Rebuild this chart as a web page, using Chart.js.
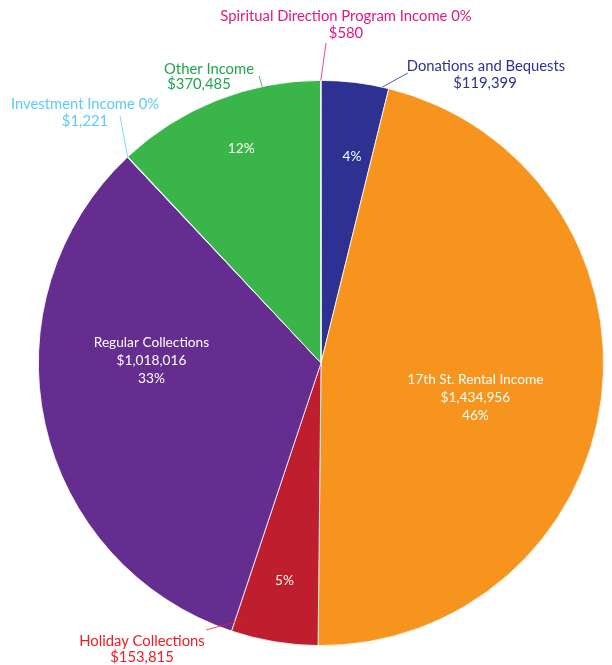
<!DOCTYPE html>
<html>
<head>
<meta charset="utf-8">
<script src="https://cdn.jsdelivr.net/npm/chart.js@4"></script>
<style>
  html, body { margin: 0; padding: 0; background: #ffffff; }
  #wrap { position: relative; width: 612px; height: 665px; }
</style>
</head>
<body>
<div id="wrap"><canvas id="c" width="612" height="665"></canvas></div>
<script>
// ---- data ----
const categories = [
  "Donations and Bequests",
  "17th St. Rental Income",
  "Holiday Collections",
  "Regular Collections",
  "Investment Income",
  "Other Income",
  "Spiritual Direction Program Income"
];
const values = [119399, 1434956, 153815, 1018016, 1221, 370485, 580];
const sliceColors = ["#2e3192", "#f7941d", "#be1e2d", "#662d91", "#6dcff6", "#39b54a", "#ec008c"];
const textColors  = ["#2e3192", "#ffffff", "#ed1c24", "#ffffff", "#5ccbf5", "#1ea64b", "#e5177f"];

const FONT = "Lato, 'Open Sans', sans-serif";
const total = values.reduce((a, b) => a + b, 0);
const pct = v => Math.round(v / total * 100) + "%";
const money = v => "$" + v.toLocaleString("en-US");

// label layout (style/positioning only)
// inside labels: angle (deg clockwise from top; null = slice middle) and radius fraction
const insideLabels = {
  0: { angle: 8.5, r: 0.74, lines: i => [pct(values[i])] },
  1: { angle: 102.7, r: 0.56, lines: i => [categories[i], money(values[i]), pct(values[i])] },
  2: { angle: null, r: 0.78, lines: i => [pct(values[i])] },
  3: { angle: 270.7, r: 0.60, lines: i => [categories[i], money(values[i]), pct(values[i])] },
  5: { angle: 339.6, r: 0.81, lines: i => [pct(values[i])] }
};
// outside labels: text anchor, leader start, leader end angle on rim
const outsideLabels = {
  0: { tx: [486, 485], ty: [66, 83], text: i => [categories[i], money(values[i])], from: [408, 73], angle: 12.5, rr: 1.0 },
  2: { tx: [142, 142], ty: [641, 657], text: i => [categories[i], money(values[i])], from: [206, 630], angle: 197, rr: 0.95 },
  4: { tx: [85, 85], ty: [104, 121], text: i => [categories[i] + " " + pct(values[i]), money(values[i])], from: [120, 116], angle: null, rr: 1.0 },
  5: { tx: [209, 199], ty: [69, 84], text: i => [categories[i], money(values[i])], from: [259, 76], angle: 348, rr: 1.0 },
  6: { tx: [346, 346], ty: [16, 33], text: i => [categories[i] + " " + pct(values[i]), money(values[i])], from: [326, 43], angle: null, rr: 1.0 }
};

function rimPoint(el, angleDeg, frac) {
  const p = el.getProps(["x", "y", "startAngle", "endAngle", "outerRadius"], true);
  let a;
  if (angleDeg === null) a = (p.startAngle + p.endAngle) / 2;
  else a = angleDeg * Math.PI / 180 - Math.PI / 2;
  return [p.x + Math.cos(a) * p.outerRadius * frac, p.y + Math.sin(a) * p.outerRadius * frac];
}

const labelPlugin = {
  id: "pieLabels",
  afterDatasetsDraw(chart) {
    const ctx = chart.ctx;
    const meta = chart.getDatasetMeta(0);
    ctx.save();
    ctx.textAlign = "center";
    ctx.textBaseline = "middle";
    // inside
    ctx.font = "13.7px " + FONT;
    Object.keys(insideLabels).forEach(k => {
      const i = +k, cfg = insideLabels[k];
      const [x, y] = rimPoint(meta.data[i], cfg.angle, cfg.r);
      const lines = cfg.lines(i);
      ctx.fillStyle = "#ffffff";
      const lh = 18;
      lines.forEach((t, j) => ctx.fillText(t, x, y + (j - (lines.length - 1) / 2) * lh));
    });
    // outside
    ctx.font = "14.8px " + FONT;
    Object.keys(outsideLabels).forEach(k => {
      const i = +k, cfg = outsideLabels[k];
      const col = textColors[i];
      const [ex, ey] = rimPoint(meta.data[i], cfg.angle, cfg.rr);
      ctx.strokeStyle = col;
      ctx.lineWidth = 0.8;
      ctx.beginPath();
      ctx.moveTo(cfg.from[0], cfg.from[1]);
      ctx.lineTo(ex, ey);
      ctx.stroke();
      ctx.fillStyle = col;
      cfg.text(i).forEach((t, j) => ctx.fillText(t, cfg.tx[j], cfg.ty[j]));
    });
    ctx.restore();
  }
};

new Chart(document.getElementById("c"), {
  type: "pie",
  data: {
    labels: categories,
    datasets: [{
      data: values,
      backgroundColor: sliceColors,
      borderColor: "#ffffff",
      borderWidth: 0.8,
      hoverOffset: 0
    }]
  },
  options: {
    responsive: false,
    animation: false,
    devicePixelRatio: 1,
    layout: { padding: { left: 38, right: 8, top: 80, bottom: 19 } },
    plugins: { legend: { display: false }, tooltip: { enabled: false } }
  },
  plugins: [labelPlugin]
});
</script>
</body>
</html>
